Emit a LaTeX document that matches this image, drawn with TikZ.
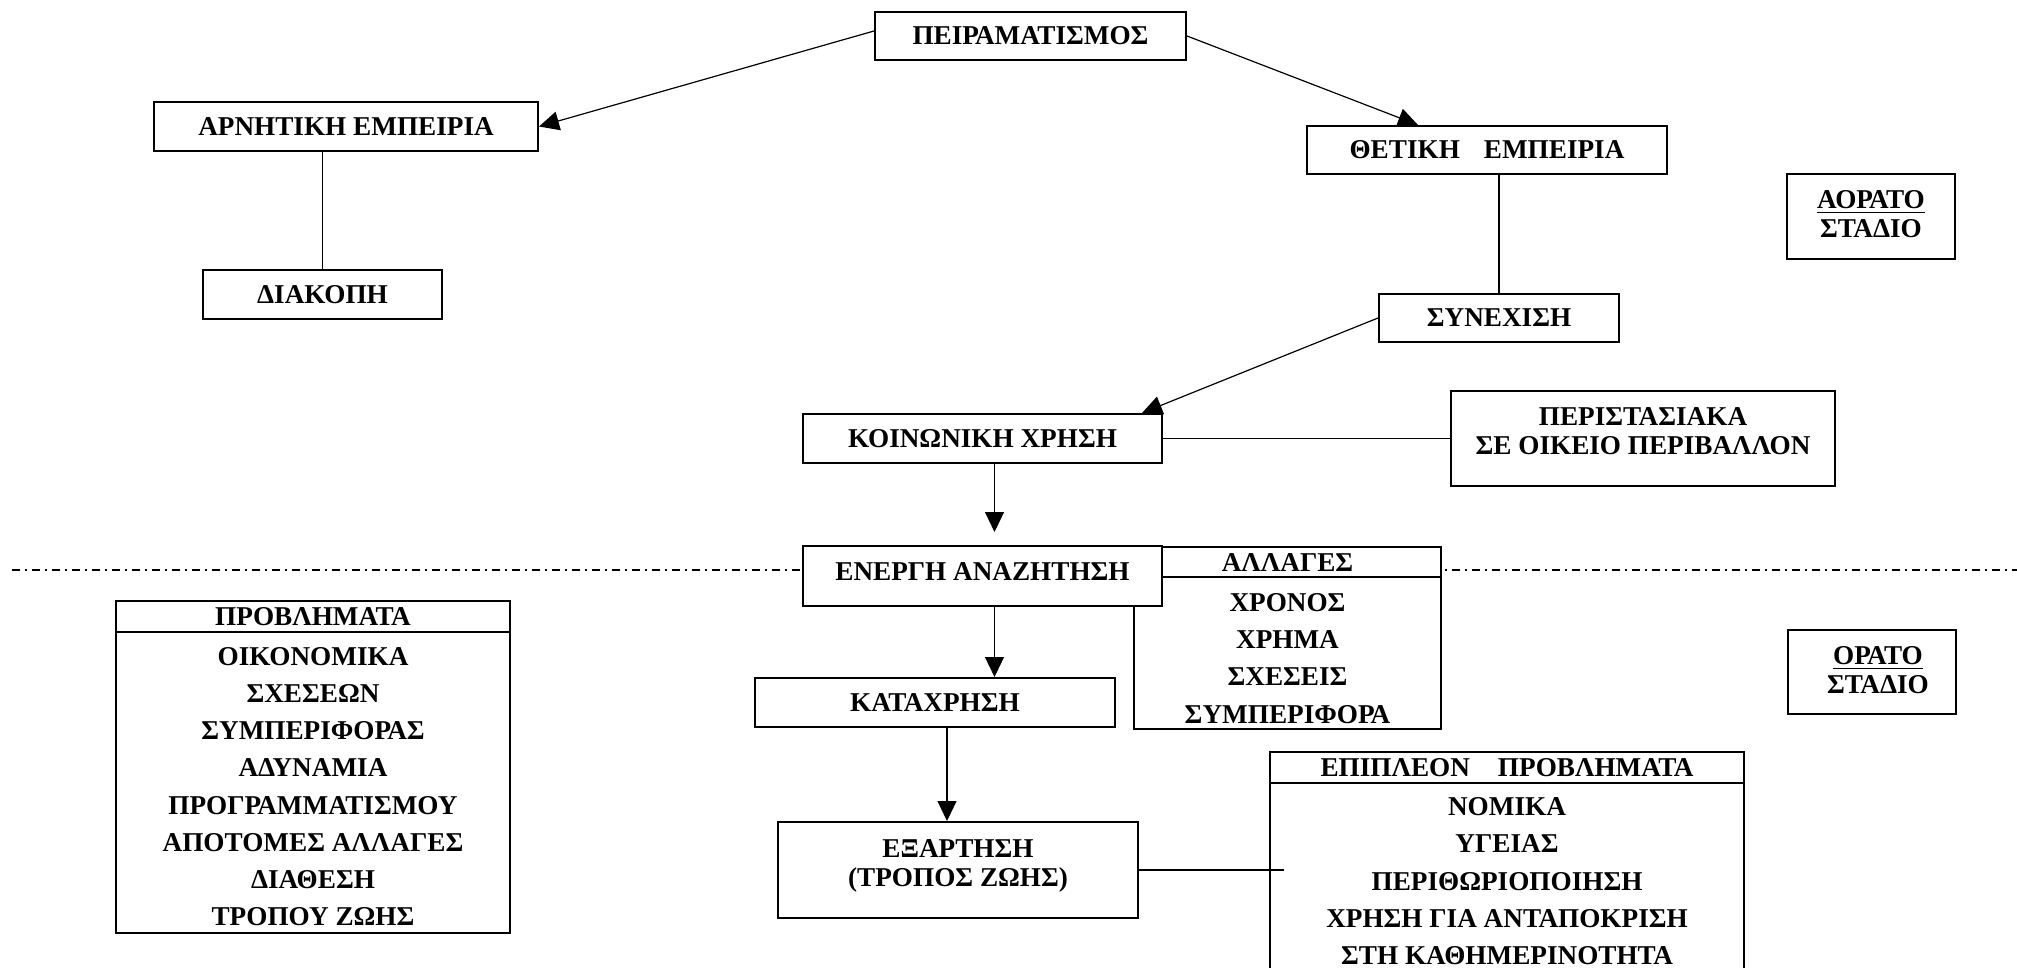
\documentclass[tikz,border=0pt]{standalone}
\usepackage{fontspec}
\setmainfont{Liberation Serif}
\usetikzlibrary{arrows.meta}
\begin{document}
\begin{tikzpicture}[x=0.5pt,y=-0.5pt,
  every node/.style={font=\bfseries\fontsize{13.6}{18.6}\selectfont, inner sep=0pt},
  box/.style={draw, line width=1pt, fill=white},
  rule/.style={line width=1pt},
  conn/.style={line width=0.6pt},
  arr/.style={line width=0.6pt, -{Triangle[length=10pt,width=9.5pt]}},
  sepline/.style={line width=0.9pt, dash pattern=on 4pt off 2.5pt on 1pt off 2.5pt},
  ml/.style={align=center, font=\bfseries\fontsize{13.6}{14.5}\selectfont},
  col/.style={align=center},
]
\useasboundingbox (0,0) rectangle (2017,968);

% separator between invisible and visible stage
\coordinate (sepL) at (12,570);
\coordinate (sepR) at (2017,570);
\draw[sepline] (sepL) -- (sepR);

% upper part
\node[box, minimum width=155.5pt, minimum height=24pt] (peir) at (1030.5,36) {ΠΕΙΡΑΜΑΤΙΣΜΟΣ};
\node[box, minimum width=192pt, minimum height=24.5pt] (arn) at (346,126.5) {ΑΡΝΗΤΙΚΗ ΕΜΠΕΙΡΙΑ};
\node[box, minimum width=119.5pt, minimum height=24.5pt] (diak) at (322.5,294.5) {ΔΙΑΚΟΠΗ};
\node[box, minimum width=180pt, minimum height=24pt] (thet) at (1487,150) {ΘΕΤΙΚΗ\hspace{12pt}ΕΜΠΕΙΡΙΑ};
\node[box, minimum width=120pt, minimum height=24pt] (syn) at (1499,318) {ΣΥΝΕΧΙΣΗ};
\node[box, minimum width=84pt, minimum height=42.5pt] (aor) at (1871,216.5) {};
\node[ml] (aortxt) at (1871,214.5) {\underline{ΑΟΡΑΤΟ}\\ΣΤΑΔΙΟ};
\node[box, minimum width=179.5pt, minimum height=24.5pt] (koin) at (982.5,438.5) {ΚΟΙΝΩΝΙΚΗ ΧΡΗΣΗ};
\node[box, minimum width=192pt, minimum height=47.5pt] (peri) at (1643,438.5) {};
\node[ml] (peritxt) at (1643,431.5) {ΠΕΡΙΣΤΑΣΙΑΚΑ\\ΣΕ ΟΙΚΕΙΟ ΠΕΡΙΒΑΛΛΟΝ};

% changes table
\node[box, minimum width=153.5pt, minimum height=91pt] (alltab) at (1287.5,638) {};
\draw[rule] ([yshift=-15.5pt]alltab.north west) -- ([yshift=-15.5pt]alltab.north east);
\node (allhead) at (1287.5,562.5) {ΑΛΛΑΓΕΣ};
\node[col] (allrows) at (1287.5,658.4) {ΧΡΟΝΟΣ\\ΧΡΗΜΑ\\ΣΧΕΣΕΙΣ\\ΣΥΜΠΕΡΙΦΟΡΑ};

\node[box, minimum width=179.5pt, minimum height=30pt] (energ) at (982.5,576) {};
\node (energtxt) at (982.5,572) {ΕΝΕΡΓΗ ΑΝΑΖΗΤΗΣΗ};
\node[box, minimum width=180pt, minimum height=24.5pt] (kat) at (935,702.5) {ΚΑΤΑΧΡΗΣΗ};
\node[box, minimum width=180pt, minimum height=48pt] (exa) at (958,870) {};
\node[ml] (exatxt) at (958,865.5) {ΕΞΑΡΤΗΣΗ\\(ΤΡΟΠΟΣ ΖΩΗΣ)};

% problems table
\node[box, minimum width=197pt, minimum height=166pt] (prob) at (313,767) {};
\draw[rule] ([yshift=-16pt]prob.north west) -- ([yshift=-16pt]prob.north east);
\node (probhead) at (313,617) {ΠΡΟΒΛΗΜΑΤΑ};
\node[col] (probrows) at (313,786.7) {ΟΙΚΟΝΟΜΙΚΑ\\ΣΧΕΣΕΩΝ\\ΣΥΜΠΕΡΙΦΟΡΑΣ\\ΑΔΥΝΑΜΙΑ\\ΠΡΟΓΡΑΜΜΑΤΙΣΜΟΥ\\ΑΠΟΤΟΜΕΣ ΑΛΛΑΓΕΣ\\ΔΙΑΘΕΣΗ\\ΤΡΟΠΟΥ ΖΩΗΣ};

% further problems table (open at the bottom edge)
\coordinate (epiBL) at (1270,968);
\coordinate (epiTL) at (1270,752);
\coordinate (epiTR) at (1744,752);
\coordinate (epiBR) at (1744,968);
\draw[rule] (epiBL) -- (epiTL) -- (epiTR) -- (epiBR);
\draw[rule] ([yshift=-15.5pt]epiTL) -- ([yshift=-15.5pt]epiTR);
\node (epihead) at (1507,767.5) {ΕΠΙΠΛΕΟΝ\hspace{14pt}ΠΡΟΒΛΗΜΑΤΑ};
\node[col] (epirows) at (1507,881.2) {ΝΟΜΙΚΑ\\ΥΓΕΙΑΣ\\ΠΕΡΙΘΩΡΙΟΠΟΙΗΣΗ\\ΧΡΗΣΗ ΓΙΑ ΑΝΤΑΠΟΚΡΙΣΗ\\ΣΤΗ ΚΑΘΗΜΕΡΙΝΟΤΗΤΑ};

\node[box, minimum width=84pt, minimum height=42pt] (ora) at (1872,672) {};
\node[ml] (oratxt) at (1878,670.5) {\underline{ΟΡΑΤΟ}\\ΣΤΑΔΙΟ};

% connectors
\draw[arr] ([yshift=2.5pt]peir.west) -- (arn.east);
\draw[arr] (peir.east) -- ([xshift=-34.5pt]thet.north);
\draw[conn] (diak.north |- arn.south) -- (diak.north);
\draw[conn] (syn.north |- thet.south) -- (syn.north);
\draw[arr] (syn.west) -- ([xshift=-10.5pt]koin.north east);
\draw[conn] (koin.east) -- (peri.west);
\draw[arr, shorten >=6.5pt] ([xshift=6pt]koin.south) -- ([xshift=6pt]koin.south |- energ.north);
\draw[arr] ([xshift=6pt]energ.south) -- ([xshift=6pt]energ.south |- kat.north);
\draw[arr] ([xshift=6pt]kat.south) -- ([xshift=6pt]kat.south |- exa.north);
\coordinate (exaend) at (1284,870);
\draw[conn] (exa.east) -- (exaend);
\end{tikzpicture}
\end{document}
